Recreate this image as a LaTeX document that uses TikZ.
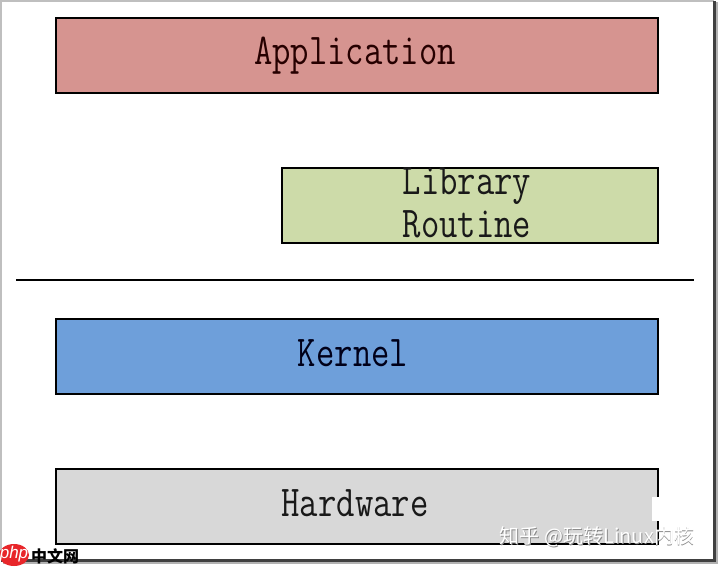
\documentclass[tikz,border=0pt]{standalone}
\usepackage{fontspec}
\newfontfamily\cjkfont{Noto Sans CJK SC}
\newfontfamily\logofont{Liberation Sans}
\newcommand{\lbltext}[1]{\scalebox{0.81}[1]{\ttfamily\fontsize{44}{42}\selectfont #1}}
\definecolor{appfill}{HTML}{D69490}
\definecolor{libfill}{HTML}{CDDBA9}
\definecolor{kerfill}{HTML}{6E9FDA}
\definecolor{hwfill}{HTML}{D8D8D8}
\definecolor{phpred}{HTML}{E8262A}
\begin{document}
\begin{tikzpicture}[x=1pt,y=-1pt,
  layer/.style={draw=black,line width=2pt,inner sep=0pt},
  lbl/.style={inner sep=0pt,text=black!90,anchor=base},
  wmark/.style={font=\cjkfont\fontsize{20}{22}\selectfont,text=white,inner sep=0pt}]
\useasboundingbox (0,0) rectangle (720,568);
\fill[white] (0,0) rectangle (720,568);
% frame of the screenshot
\draw[black!25,line width=2pt] (1,560) -- (1,1) -- (714,1);
\draw[black!75,line width=3pt] (714,1) -- (714,560) -- (1,560);
\draw[black!30,line width=2pt] (717,2) -- (717,563) -- (3,563);
% layers
\node[layer,fill=appfill,minimum width=602pt,minimum height=75pt,anchor=north west] (app) at (55,17) {};
\node[lbl,text=black!85!red] (apptext) at (355,64) {\lbltext{Application}};
\node[layer,fill=libfill,minimum width=376pt,minimum height=75pt,anchor=north west] (lib) at (281,167) {};
\node[lbl] (libtext1) at (467,194) {\lbltext{Library}};
\node[lbl] (libtext2) at (467,237) {\lbltext{Routine}};
\coordinate (sepl) at (16,280);
\coordinate (sepr) at (694,280);
\draw[line width=2pt] (sepl) -- (sepr);
\node[layer,fill=kerfill,minimum width=602pt,minimum height=75pt,anchor=north west] (ker) at (55,318) {};
\node[lbl,text=black!90!blue] (kertext) at (353,366) {\lbltext{Kernel}};
\node[layer,fill=hwfill,minimum width=602pt,minimum height=75pt,anchor=north west] (hw) at (55,468) {};
\node[lbl] (hwtext) at (355,516) {\lbltext{Hardware}};
% watermarks
\fill[white] (652,497) rectangle (661,521);
\node[wmark,text=black!45] (wm2) at (597.8,537.8) {知乎 @玩转Linux内核};
\node[wmark] (wm) at (597,537) {知乎 @玩转Linux内核};
\fill[phpred] (14,555) ellipse (15pt and 11pt);
\node[font=\logofont\fontsize{17}{17}\selectfont\itshape,text=white,inner sep=0pt] (php) at (14,554) {php};
\node[font=\cjkfont\bfseries\fontsize{16}{16}\selectfont,text=black,inner sep=0pt,anchor=west] (zw) at (31,556) {中文网};
\end{tikzpicture}
\end{document}
